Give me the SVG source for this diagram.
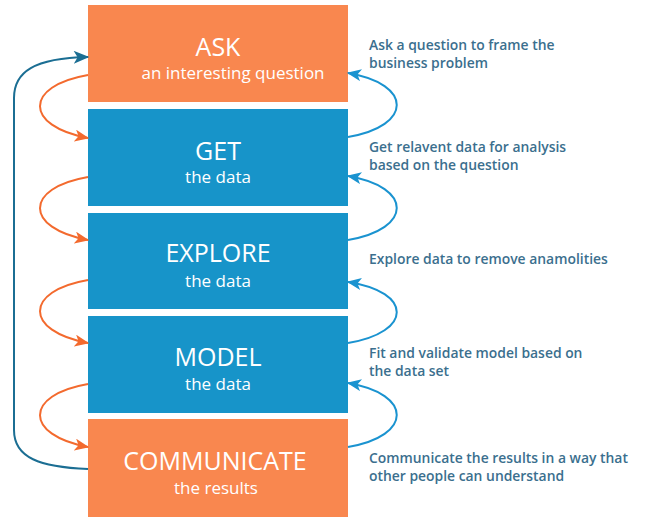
<svg xmlns="http://www.w3.org/2000/svg" width="650" height="523" viewBox="0 0 650 523">
<style>
.box-o{fill:#F9874F}
.box-b{fill:#1794C9}
.title{font-family:"Open Sans",sans-serif;font-size:25px;fill:#fff;text-anchor:middle}
.sub{font-family:"Open Sans",sans-serif;font-size:17px;fill:#fff;text-anchor:middle}
.note{font-family:"Open Sans",sans-serif;font-size:13.9px;font-weight:600;fill:#3B6F8E}
.lo{fill:none;stroke:#F36A2E;stroke-width:2}
.lb{fill:none;stroke:#1A93D0;stroke-width:2}
.lt{fill:none;stroke:#1B6E93;stroke-width:2}
</style>
<defs>
<marker id="ao" viewBox="0 0 12 10" refX="11" refY="5" markerWidth="15" markerHeight="12" markerUnits="userSpaceOnUse" orient="auto"><path d="M0,0 L12,5 L0,10 L3,5 z" fill="#F36A2E"/></marker>
<marker id="ab" viewBox="0 0 12 10" refX="11" refY="5" markerWidth="15" markerHeight="12" markerUnits="userSpaceOnUse" orient="auto"><path d="M0,0 L12,5 L0,10 L3,5 z" fill="#1A93D0"/></marker>
<marker id="at" viewBox="0 0 12 10" refX="11" refY="5" markerWidth="16" markerHeight="13" markerUnits="userSpaceOnUse" orient="auto"><path d="M0,0 L12,5 L0,10 L3,5 z" fill="#1B6E93"/></marker>
</defs>
<g id="ask"><rect class="box-o" x="88" y="5" width="260" height="97"/><text class="title" x="218" y="56">ASK</text><text class="sub" x="233" y="79">an interesting question</text></g>
<g id="get"><rect class="box-b" x="88" y="109" width="260" height="97"/><text class="title" x="218" y="160">GET</text><text class="sub" x="218" y="183">the data</text></g>
<g id="explore"><rect class="box-b" x="88" y="213" width="260" height="96"/><text class="title" x="218" y="262">EXPLORE</text><text class="sub" x="218" y="287">the data</text></g>
<g id="model"><rect class="box-b" x="88" y="316" width="260" height="97"/><text class="title" x="218" y="366">MODEL</text><text class="sub" x="218" y="390">the data</text></g>
<g id="communicate"><rect class="box-o" x="88" y="419" width="260" height="98"/><text class="title" x="215" y="470">COMMUNICATE</text><text class="sub" x="216" y="494">the results</text></g>
<g id="notes">
<text class="note" x="369" y="50">Ask a question to frame the</text>
<text class="note" x="369" y="68">business problem</text>
<text class="note" x="369" y="152">Get relavent data for analysis</text>
<text class="note" x="369" y="170">based on the question</text>
<text class="note" x="369" y="264">Explore data to remove anamolities</text>
<text class="note" x="369" y="358">Fit and validate model based on</text>
<text class="note" x="369" y="376">the data set</text>
<text class="note" x="369" y="463">Communicate the results in a way that</text>
<text class="note" x="369" y="481">other people can understand</text>
</g>
<g id="connectors">
<path class="lo" d="M88,75 C24,86 24,126 88,138" marker-end="url(#ao)"/>
<path class="lo" d="M88,177 C24,188 24,228 88,240" marker-end="url(#ao)"/>
<path class="lo" d="M88,280 C24,291 24,331 88,343" marker-end="url(#ao)"/>
<path class="lo" d="M88,384 C24,395 24,435 88,447" marker-end="url(#ao)"/>
<path class="lb" d="M348,137 C413,126 413,84 348,73" marker-end="url(#ab)"/>
<path class="lb" d="M348,240 C413,229 413,187 348,176" marker-end="url(#ab)"/>
<path class="lb" d="M348,343 C413,332 413,292 348,282" marker-end="url(#ab)"/>
<path class="lb" d="M348,447 C413,436 413,394 348,383" marker-end="url(#ab)"/>
<path class="lt" d="M88,469 C40,467 14,458 14,430 L14,98 C14,72 34,58 88,57" marker-end="url(#at)"/>
</g>
</svg>
